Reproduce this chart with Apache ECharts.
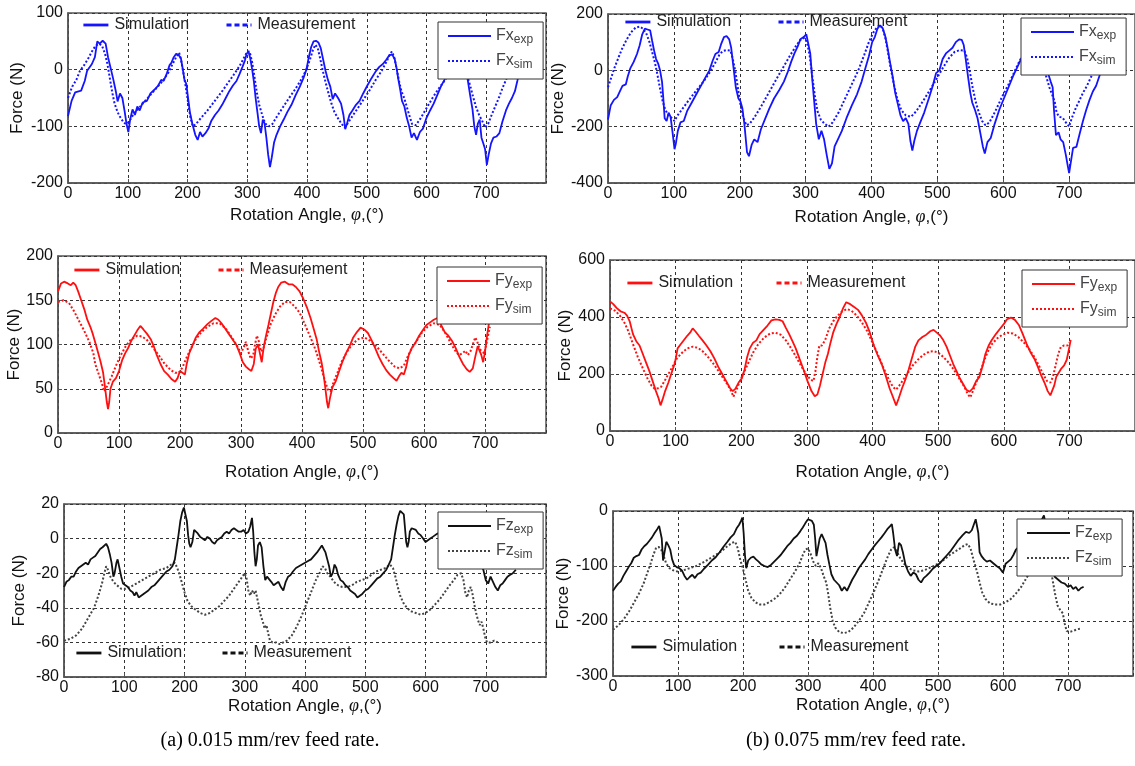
<!DOCTYPE html>
<html><head><meta charset="utf-8">
<script src="https://cdn.jsdelivr.net/npm/echarts@6/dist/echarts.min.js"></script>
<style>html,body{margin:0;padding:0;background:#fff}#c{width:1135px;height:766px}</style>
</head><body><div id="c"></div><script>
// ---------- DATA: [rotation angle (deg), force (N)] ----------
const xTicks = [0,100,200,300,400,500,600,700];
const captions = ['(a) 0.015 mm/rev feed rate.', '(b) 0.075 mm/rev feed rate.'];

const fxExpA = [[0,-82],[6,-55],[12,-40],[22,-37],[28,-20],[32,-2],[40,10],[45,22],[49,50],[53,46],[58,51],[63,46],[67,22],[72,0],[76,-18],[80,-38],[83,-56],[87,-42],[91,-50],[95,-75],[98,-96],[101,-110],[104,-88],[108,-70],[112,-80],[116,-65],[120,-72],[125,-58],[132,-55],[138,-42],[145,-35],[151,-28],[156,-18],[160,-20],[165,-8],[170,8],[173,12],[177,22],[181,28],[185,26],[189,20],[192,2],[195,-18],[198,-25],[201,-50],[204,-75],[208,-95],[213,-115],[217,-124],[221,-110],[225,-118],[230,-112],[235,-104],[240,-90],[246,-80],[252,-72],[258,-62],[264,-50],[270,-38],[276,-28],[282,-20],[287,-8],[292,5],[296,16],[299,28],[302,32],[305,20],[308,2],[311,-20],[314,-50],[317,-75],[320,-100],[323,-112],[326,-88],[329,-95],[332,-120],[335,-150],[338,-172],[341,-155],[345,-128],[349,-115],[355,-100],[361,-88],[367,-75],[374,-62],[381,-45],[388,-30],[394,-15],[399,0],[403,22],[407,40],[411,50],[415,51],[419,48],[423,38],[427,18],[431,-2],[435,-18],[439,-30],[443,-52],[447,-42],[452,-50],[457,-60],[461,-80],[464,-105],[467,-95],[471,-80],[476,-72],[482,-62],[488,-55],[494,-42],[501,-28],[508,-15],[515,-3],[521,5],[527,10],[533,18],[538,26],[543,26],[547,18],[550,2],[553,-18],[556,-35],[559,-55],[563,-65],[567,-85],[571,-100],[575,-120],[579,-112],[584,-124],[589,-110],[594,-104],[600,-85],[606,-72],[612,-60],[618,-45],[624,-30],[630,-18],[636,-5],[642,5],[648,15],[654,25],[660,20],[665,5],[669,-18],[673,-45],[677,-70],[680,-100],[683,-115],[686,-95],[689,-88],[692,-120],[695,-130],[698,-140],[701,-168],[704,-150],[708,-130],[712,-120],[717,-118],[722,-112],[727,-92],[733,-72],[738,-60],[743,-50],[748,-38],[752,-20],[756,0]];
const fxSimA = [[0,-50],[7,-30],[14,-18],[20,-2],[27,8],[34,20],[40,32],[46,42],[52,46],[57,42],[62,28],[66,10],[70,-15],[74,-40],[78,-60],[83,-75],[88,-85],[93,-93],[97,-96],[102,-92],[110,-78],[120,-66],[130,-54],[140,-42],[150,-30],[160,-18],[168,-5],[175,10],[181,22],[186,30],[189,18],[193,-5],[197,-30],[201,-58],[205,-85],[209,-100],[214,-96],[222,-86],[232,-74],[245,-56],[258,-38],[270,-20],[280,-5],[288,8],[295,22],[300,32],[304,32],[308,14],[312,-12],[316,-40],[320,-62],[325,-80],[330,-95],[336,-100],[342,-96],[350,-82],[360,-66],[370,-50],[380,-35],[390,-18],[398,-2],[405,18],[410,35],[414,44],[418,38],[422,20],[426,0],[431,-22],[436,-42],[441,-60],[446,-75],[452,-86],[458,-96],[463,-102],[468,-95],[476,-82],[485,-68],[495,-52],[505,-36],[515,-18],[525,-2],[533,14],[538,25],[542,32],[546,22],[550,2],[554,-20],[558,-38],[562,-48],[566,-62],[571,-80],[576,-96],[582,-98],[590,-86],[600,-68],[610,-50],[620,-34],[630,-20],[640,-5],[650,8],[658,20],[663,10],[668,-10],[673,-28],[678,-48],[683,-66],[688,-80],[693,-90],[698,-102],[703,-96],[709,-80],[715,-65],[721,-50],[727,-33],[733,-18],[740,0]];

const fxExpB = [[0,-175],[4,-125],[9,-105],[14,-95],[18,-75],[22,-55],[27,-50],[30,-22],[34,8],[39,30],[44,58],[48,88],[52,128],[56,148],[60,145],[64,142],[67,105],[70,70],[73,40],[76,25],[79,0],[82,-40],[84,-100],[86,-170],[89,-180],[92,-150],[95,-165],[98,-220],[101,-280],[103,-260],[106,-215],[110,-185],[115,-180],[120,-145],[127,-115],[134,-85],[141,-55],[148,-25],[154,0],[159,35],[163,58],[168,65],[172,95],[176,118],[180,122],[184,110],[187,80],[190,20],[194,-60],[198,-100],[201,-110],[204,-135],[207,-190],[211,-290],[214,-305],[218,-265],[222,-245],[227,-255],[232,-210],[238,-175],[245,-135],[252,-100],[260,-70],[267,-40],[273,-5],[278,30],[283,60],[288,85],[292,110],[297,118],[301,128],[304,95],[307,60],[310,-30],[313,-110],[316,-190],[320,-245],[324,-215],[328,-245],[332,-300],[336,-350],[340,-330],[344,-270],[349,-245],[355,-215],[362,-170],[370,-125],[378,-85],[385,-40],[391,10],[396,50],[401,100],[405,118],[409,148],[413,160],[417,150],[421,120],[424,85],[428,30],[432,-20],[436,-80],[440,-120],[444,-160],[448,-180],[452,-170],[456,-190],[459,-250],[462,-285],[465,-250],[469,-215],[474,-185],[480,-150],[487,-100],[493,-55],[498,-10],[503,0],[508,40],[513,60],[518,70],[523,80],[528,100],[533,110],[537,108],[540,90],[543,40],[547,-30],[550,-80],[553,-115],[557,-140],[561,-170],[565,-220],[569,-270],[572,-295],[576,-255],[581,-240],[587,-190],[594,-140],[601,-100],[608,-60],[615,-20],[621,10],[627,40],[633,70],[640,90],[647,110],[653,100],[658,70],[663,30],[668,-10],[672,-40],[675,-60],[677,-140],[680,-230],[684,-220],[687,-245],[691,-255],[695,-300],[698,-340],[700,-365],[703,-320],[706,-275],[711,-272],[716,-225],[721,-180],[726,-140],[731,-105],[736,-75],[741,-55],[746,-20],[752,20]];
const fxSimB = [[0,-60],[5,-25],[10,10],[15,40],[21,75],[28,108],[35,135],[42,152],[48,155],[53,148],[58,132],[63,100],[67,65],[71,30],[75,-15],[79,-65],[83,-110],[87,-140],[92,-160],[97,-170],[101,-180],[105,-162],[112,-140],[122,-108],[133,-75],[145,-40],[155,-5],[163,28],[169,55],[174,68],[180,72],[186,70],[189,45],[193,0],[197,-60],[201,-120],[205,-165],[210,-195],[215,-190],[222,-168],[232,-130],[244,-80],[256,-30],[267,15],[277,55],[285,85],[292,108],[298,115],[302,100],[306,55],[310,-20],[314,-90],[318,-145],[323,-175],[329,-190],[335,-200],[341,-185],[350,-150],[360,-100],[370,-50],[380,0],[389,55],[396,100],[403,135],[409,155],[413,160],[417,148],[421,115],[425,65],[429,10],[434,-50],[439,-100],[445,-140],[452,-160],[460,-165],[468,-145],[478,-110],[490,-65],[500,-25],[510,15],[518,45],[526,65],[534,72],[541,70],[545,45],[549,0],[553,-55],[558,-110],[563,-150],[568,-180],[573,-195],[579,-185],[588,-145],[598,-95],[608,-50],[617,-5],[625,35],[633,65],[641,85],[649,92],[655,70],[660,30],[665,-20],[670,-60],[674,-85],[678,-110],[681,-150],[685,-165],[690,-168],[695,-185],[700,-200],[704,-170],[709,-140],[715,-110],[721,-80],[727,-55],[734,-20],[742,20]];

const fyExpA = [[0,160],[5,169],[10,171],[16,169],[21,167],[25,170],[29,167],[33,160],[38,150],[43,140],[48,128],[53,120],[57,112],[62,100],[66,90],[70,80],[74,68],[77,52],[80,35],[82,27],[84,35],[86,50],[90,58],[95,62],[100,70],[105,82],[110,90],[115,96],[120,104],[125,110],[130,116],[135,121],[140,117],[146,112],[152,106],[157,98],[162,88],[168,78],[174,70],[180,66],[186,61],[192,58],[196,62],[200,70],[204,68],[208,66],[211,78],[215,90],[220,98],[226,108],[232,114],[238,118],[245,123],[252,127],[258,130],[263,128],[268,124],[274,118],[280,112],[286,106],[292,100],[298,90],[303,80],[308,75],[313,72],[317,70],[321,78],[324,95],[328,100],[331,90],[334,80],[337,96],[341,110],[345,122],[349,135],[353,148],[357,158],[361,165],[366,170],[372,171],[378,168],[384,168],[390,165],[396,160],[402,152],[408,142],[414,130],[419,118],[424,106],[428,92],[432,80],[435,68],[438,52],[441,35],[443,28],[446,40],[450,52],[455,58],[460,68],[466,80],[472,90],[478,98],[484,108],[490,114],[496,119],[502,117],[508,113],[514,105],[520,96],[526,86],[532,78],[538,71],[544,66],[550,62],[555,59],[559,64],[563,68],[567,66],[571,75],[575,88],[580,96],[586,102],[592,110],[598,116],[604,122],[610,125],[616,128],[622,130],[628,122],[634,114],[640,110],[646,104],[652,96],[658,86],[664,78],[670,72],[675,69],[680,73],[684,86],[688,98],[691,100],[694,88],[697,80],[700,92],[703,108],[706,122],[710,135]];
const fySimA = [[0,148],[9,150],[18,147],[26,138],[35,126],[44,114],[52,102],[58,90],[61,78],[64,72],[67,74],[71,58],[76,47],[82,55],[88,64],[95,76],[103,88],[111,98],[120,106],[130,110],[138,109],[146,105],[155,97],[165,88],[175,78],[185,71],[192,68],[198,68],[204,74],[210,84],[218,96],[226,106],[235,114],[245,120],[255,124],[265,124],[275,118],[285,108],[294,98],[300,90],[305,98],[308,103],[312,92],[316,84],[320,88],[323,100],[326,110],[329,104],[333,92],[337,96],[341,106],[348,122],[356,134],[364,143],[372,148],[380,148],[388,143],[396,136],[404,124],[412,111],[420,98],[427,84],[433,70],[438,58],[443,48],[447,47],[452,58],[458,68],[466,82],[474,92],[482,100],[492,106],[502,108],[512,104],[522,98],[532,90],[542,82],[552,75],[560,73],[567,76],[573,86],[580,96],[588,104],[597,114],[606,120],[616,124],[626,122],[634,114],[642,104],[650,94],[657,88],[663,90],[668,93],[672,88],[676,92],[680,100],[684,108],[687,104],[691,95],[695,92],[699,90],[702,100],[705,110],[708,120]];

const fyExpB = [[0,455],[5,445],[10,432],[16,420],[22,415],[26,405],[30,385],[35,340],[40,315],[45,300],[50,270],[55,240],[60,210],[65,175],[70,140],[74,115],[77,90],[80,110],[84,140],[89,170],[94,205],[99,240],[103,290],[108,305],[113,320],[118,335],[122,345],[126,360],[130,350],[135,335],[141,318],[147,300],[153,280],[159,255],[165,225],[171,200],[177,175],[183,150],[187,140],[191,148],[196,170],[201,185],[205,215],[209,260],[213,290],[218,310],[223,318],[228,340],[234,355],[240,370],[246,388],[252,392],[258,390],[263,385],[268,362],[273,340],[278,315],[283,290],[289,252],[295,215],[301,175],[307,140],[312,122],[316,128],[320,160],[324,200],[328,240],[332,270],[336,310],[340,345],[345,375],[350,400],[355,430],[360,452],[366,445],[372,435],[378,425],[384,405],[390,380],[396,345],[402,300],[408,265],[414,235],[420,195],[426,150],[431,120],[436,90],[440,115],[445,150],[450,180],[455,215],[460,255],[465,295],[470,318],[476,330],[482,338],[488,350],[493,355],[498,345],[503,335],[508,318],[513,295],[518,265],[523,235],[528,210],[533,185],[538,165],[543,145],[548,138],[553,150],[558,175],[563,190],[568,230],[572,270],[577,300],[582,320],[588,340],[594,358],[600,375],[605,392],[611,398],[617,390],[623,372],[629,340],[635,305],[641,275],[647,252],[652,225],[657,195],[662,170],[667,140],[671,125],[674,120],[677,160],[680,190],[684,205],[688,220],[692,230],[696,250],[700,295],[702,320]];
const fySimB = [[0,430],[8,422],[15,405],[22,380],[28,350],[35,305],[42,262],[50,220],[57,185],[63,160],[68,148],[73,150],[78,155],[83,175],[89,200],[95,225],[102,255],[110,275],[118,290],[126,296],[134,292],[142,278],[150,258],[158,235],[166,208],[174,180],[180,160],[185,138],[188,120],[192,140],[197,170],[203,200],[210,235],[218,275],[226,305],[235,328],[244,342],[252,345],[260,338],[268,318],[276,290],[284,258],[292,225],[300,195],[306,180],[310,175],[313,210],[316,260],[319,300],[323,300],[328,320],[334,360],[340,385],[347,405],[354,420],[361,428],[368,422],[376,405],[384,380],[392,350],[400,310],[408,270],[416,225],[424,185],[431,155],[436,145],[441,160],[447,180],[454,205],[462,232],[470,252],[478,268],[486,278],[493,280],[500,275],[508,260],[516,240],[524,215],[532,185],[540,155],[545,130],[549,118],[553,140],[558,170],[563,200],[569,240],[575,275],[582,305],[590,325],[598,338],[606,345],[614,342],[622,330],[630,312],[638,290],[646,262],[653,232],[660,200],[666,175],[671,170],[675,190],[679,230],[683,270],[687,295],[692,300],[697,300],[700,310]];

const fzExpA = [[0,-28],[4,-25],[8,-24],[12,-22],[16,-22],[20,-19],[24,-17],[28,-16],[32,-15],[36,-14],[40,-15],[44,-12],[48,-11],[52,-10],[56,-8],[60,-6],[64,-5],[67,-4],[70,-3],[73,-5],[76,-9],[79,-14],[82,-22],[84,-20],[87,-14],[89,-12],[92,-17],[95,-22],[98,-26],[102,-27],[106,-28],[110,-30],[114,-31],[117,-33],[120,-31],[124,-34],[128,-33],[132,-32],[136,-31],[140,-30],[145,-28],[150,-27],[155,-25],[160,-23],[165,-21],[170,-19],[175,-18],[180,-16],[184,-12],[187,-5],[190,2],[193,10],[196,15],[199,18],[202,17],[204,10],[206,2],[208,-3],[210,-5],[213,-2],[216,5],[219,4],[222,3],[226,1],[230,0],[234,-1],[238,1],[242,0],[246,-2],[250,-3],[254,-1],[258,0],[262,1],[266,3],[270,4],[274,3],[278,5],[282,6],[286,5],[290,4],[294,4],[298,5],[302,3],[306,4],[309,7],[312,12],[314,4],[316,-8],[318,-16],[320,-12],[322,-4],[325,-2],[328,-5],[331,-16],[334,-24],[337,-22],[340,-21],[344,-25],[348,-27],[352,-26],[356,-25],[360,-28],[364,-30],[368,-25],[372,-22],[376,-21],[380,-19],[385,-17],[390,-16],[395,-15],[400,-14],[405,-13],[410,-12],[415,-10],[420,-8],[424,-6],[428,-4],[431,-5],[434,-8],[437,-12],[440,-16],[443,-22],[446,-20],[449,-15],[452,-17],[455,-21],[459,-24],[463,-25],[467,-27],[471,-28],[475,-30],[479,-31],[483,-32],[487,-34],[491,-33],[495,-32],[500,-30],[505,-29],[510,-27],[515,-25],[520,-23],[525,-22],[530,-20],[535,-18],[539,-15],[543,-12],[546,-5],[549,2],[552,8],[555,13],[558,16],[561,17],[564,14],[566,6],[568,-2],[570,-5],[572,-2],[574,4],[577,6],[580,5],[584,5],[588,3],[592,2],[596,0],[600,-2],[604,-1],[608,0],[612,1],[616,2],[620,3],[630,2],[640,4],[650,6],[660,3],[670,-2],[680,-8],[690,-14],[696,-18],[700,-24],[704,-26],[708,-22],[712,-25],[716,-28],[720,-30],[724,-27],[728,-26],[732,-24],[736,-22],[740,-21],[745,-20],[750,-18]];
const fzSimA = [[0,-59],[10,-58],[20,-56],[30,-52],[40,-46],[50,-40],[57,-33],[63,-26],[67,-20],[70,-16],[73,-18],[77,-22],[82,-25],[88,-27],[95,-29],[102,-29],[110,-28],[120,-26],[130,-24],[140,-22],[150,-20],[160,-18],[170,-17],[178,-15],[184,-14],[188,-17],[192,-21],[196,-26],[200,-31],[205,-36],[211,-39],[218,-41],[226,-43],[234,-44],[242,-43],[250,-41],[258,-39],[266,-36],[274,-33],[282,-29],[290,-25],[296,-22],[300,-20],[303,-23],[306,-30],[309,-33],[312,-30],[315,-32],[318,-30],[321,-35],[324,-40],[327,-45],[330,-48],[333,-52],[336,-50],[339,-55],[342,-59],[346,-60],[352,-60],[358,-61],[364,-60],[370,-59],[378,-56],[386,-51],[394,-45],[402,-38],[410,-31],[418,-24],[424,-20],[429,-16],[433,-17],[437,-20],[442,-22],[448,-25],[455,-27],[462,-28],[470,-28],[478,-27],[486,-25],[494,-24],[502,-23],[510,-21],[518,-19],[526,-18],[534,-17],[541,-15],[546,-17],[550,-22],[554,-28],[558,-33],[563,-37],[569,-40],[576,-42],[584,-43],[592,-44],[600,-43],[608,-41],[616,-38],[624,-35],[632,-31],[640,-27],[647,-24],[653,-21],[659,-20],[663,-24],[666,-31],[669,-34],[672,-30],[675,-28],[678,-32],[681,-38],[684,-43],[687,-47],[690,-50],[693,-48],[696,-52],[699,-57],[702,-60],[708,-60],[714,-59],[720,-60]];

const fzExpB = [[0,-145],[4,-138],[8,-132],[12,-128],[16,-118],[20,-110],[24,-102],[28,-95],[32,-85],[36,-82],[40,-80],[44,-70],[48,-64],[52,-60],[56,-54],[60,-48],[64,-40],[68,-33],[71,-27],[73,-24],[75,-50],[77,-90],[80,-70],[82,-56],[85,-62],[88,-70],[91,-88],[94,-98],[98,-102],[102,-104],[106,-108],[110,-118],[114,-125],[118,-120],[122,-116],[126,-122],[130,-115],[135,-112],[140,-105],[146,-98],[152,-90],[158,-84],[164,-75],[170,-65],[176,-56],[181,-48],[186,-42],[190,-32],[194,-25],[197,-18],[199,-12],[201,-40],[203,-80],[205,-104],[208,-90],[212,-85],[216,-83],[220,-88],[224,-92],[228,-97],[233,-100],[238,-102],[243,-98],[248,-92],[253,-86],[258,-80],[263,-72],[268,-64],[273,-58],[278,-50],[283,-45],[288,-37],[292,-30],[296,-22],[300,-15],[303,-12],[306,-18],[309,-25],[311,-50],[313,-82],[316,-84],[318,-50],[321,-42],[324,-40],[327,-58],[330,-80],[333,-98],[336,-115],[340,-125],[344,-130],[348,-135],[352,-145],[356,-138],[360,-145],[364,-135],[368,-125],[373,-115],[378,-104],[383,-96],[388,-88],[393,-78],[398,-70],[403,-62],[408,-55],[413,-48],[418,-40],[422,-33],[426,-28],[429,-24],[431,-40],[434,-70],[437,-82],[440,-58],[443,-62],[446,-75],[450,-98],[454,-110],[458,-118],[462,-112],[466,-115],[470,-125],[474,-130],[478,-122],[482,-118],[487,-112],[492,-105],[497,-100],[502,-96],[508,-88],[514,-80],[520,-72],[526,-62],[532,-52],[538,-44],[543,-38],[548,-40],[552,-35],[555,-25],[558,-15],[560,-12],[562,-40],[564,-75],[567,-82],[571,-88],[575,-92],[580,-90],[585,-95],[590,-100],[595,-104],[600,-112],[604,-96],[608,-92],[612,-88],[616,-80],[620,-70],[628,-60],[636,-50],[645,-40],[652,-30],[658,-20],[663,-8],[666,-5],[668,-40],[672,-90],[676,-110],[680,-120],[685,-125],[690,-130],[695,-132],[700,-138],[704,-135],[708,-142],[712,-138],[716,-145],[720,-140],[724,-138]];
const fzSimB = [[0,-216],[9,-207],[17,-196],[25,-182],[33,-165],[40,-150],[47,-132],[53,-112],[58,-95],[62,-80],[66,-68],[70,-65],[74,-70],[78,-82],[82,-96],[87,-104],[93,-108],[99,-110],[108,-108],[118,-104],[128,-100],[138,-94],[148,-87],[158,-80],[168,-72],[176,-64],[183,-58],[188,-56],[192,-68],[196,-90],[200,-105],[204,-125],[208,-145],[213,-158],[219,-166],[226,-170],[233,-170],[240,-166],[248,-160],[256,-152],[264,-140],[272,-125],[280,-110],[287,-95],[292,-80],[296,-70],[300,-68],[304,-78],[308,-92],[312,-100],[316,-95],[320,-104],[324,-118],[328,-130],[331,-150],[334,-175],[338,-200],[342,-212],[348,-220],[355,-222],[362,-220],[370,-212],[378,-200],[386,-186],[394,-166],[402,-145],[410,-122],[417,-100],[423,-82],[428,-70],[432,-66],[436,-72],[442,-86],[448,-96],[455,-104],[462,-108],[470,-110],[478,-108],[486,-104],[494,-100],[502,-94],[510,-88],[518,-80],[526,-74],[534,-68],[541,-62],[546,-60],[550,-68],[555,-90],[560,-110],[564,-130],[568,-148],[573,-160],[580,-168],[588,-170],[596,-170],[604,-166],[612,-160],[620,-150],[628,-138],[636,-122],[644,-106],[652,-90],[658,-76],[662,-68],[666,-75],[670,-90],[674,-110],[677,-130],[680,-150],[684,-172],[688,-180],[692,-186],[695,-205],[698,-218],[702,-220],[708,-218],[714,-215],[720,-214]];

// ---------- LAYOUT / STYLE ----------
const SANS = '"Liberation Sans", Arial, Helvetica, sans-serif';
const panels = [
  {grid:{left:68,top:13,width:478,height:170}, y:{min:-200,max:100,interval:100}, color:'#1414ff', simColor:'#1414ff', sym:'Fx', exp:fxExpA, sim:fxSimA, yGap:42, xGap:23, leg:{left:82,top:17,gap:36}, box:{left:438,top:22}},
  {grid:{left:608,top:14,width:530,height:169}, y:{min:-400,max:200,interval:200}, color:'#1414ff', simColor:'#1414ff', sym:'Fx', exp:fxExpB, sim:fxSimB, yGap:34, xGap:25, leg:{left:624,top:14,gap:46}, box:{left:1021,top:18}},
  {grid:{left:58,top:256,width:488,height:177}, y:{min:0,max:200,interval:50}, color:'#ff1010', simColor:'#ff1010', sym:'Fy', exp:fyExpA, sim:fySimA, yGap:32, xGap:30, leg:{left:73,top:262,gap:37}, box:{left:437,top:267}},
  {grid:{left:610,top:260,width:530,height:171}, y:{min:0,max:600,interval:200}, color:'#ff1010', simColor:'#ff1010', sym:'Fy', exp:fyExpB, sim:fySimB, yGap:36, xGap:32, leg:{left:626,top:275,gap:42}, box:{left:1022,top:270}},
  {grid:{left:64,top:504,width:482,height:173}, y:{min:-80,max:20,interval:20}, color:'#111111', simColor:'#444444', sym:'Fz', exp:fzExpA, sim:fzSimA, yGap:36, xGap:14, leg:{left:75,top:645,gap:39}, box:{left:438,top:512}},
  {grid:{left:613,top:511,width:520,height:165}, y:{min:-300,max:0,interval:100}, color:'#111111', simColor:'#444444', sym:'Fz', exp:fzExpB, sim:fzSimB, yGap:38, xGap:16, leg:{left:630,top:639,gap:41}, box:{left:1017,top:519}}
];

const gridLine = {show:true, lineStyle:{color:'#333', type:[3,3], width:1}};
const grids = [], xAxes = [], yAxes = [], series = [], legends = [];
panels.forEach((p, i) => {
  const k = '#' + (i + 1);
  grids.push(Object.assign({show:true, borderColor:'#555', borderWidth:1.5, backgroundColor:'#fff'}, p.grid));
  xAxes.push({type:'value', gridIndex:i, min:0, max:800, interval:100,
    name:'Rotation Angle, {i|φ},(°)', nameLocation:'middle', nameGap:p.xGap,
    nameTextStyle:{fontFamily:SANS, fontSize:17, color:'#111', verticalAlign:'top',
      rich:{i:{fontFamily:'"Liberation Serif", serif', fontStyle:'italic', fontSize:18, color:'#111'}}},
    axisLine:{show:true, onZero:false, lineStyle:{color:'#555', width:1.5}},
    axisTick:{show:true, inside:true, length:4, lineStyle:{color:'#555'}},
    axisLabel:{fontFamily:SANS, fontSize:16, color:'#111', margin:3, showMaxLabel:false,
      formatter: v => xTicks.includes(v) ? String(v) : ''},
    splitLine:gridLine});
  yAxes.push({type:'value', gridIndex:i, min:p.y.min, max:p.y.max, interval:p.y.interval,
    name:'Force (N)', nameLocation:'middle', nameGap:p.yGap, nameRotate:90,
    nameTextStyle:{fontFamily:SANS, fontSize:17, color:'#111'},
    axisLine:{show:true, onZero:false, lineStyle:{color:'#555', width:1.5}},
    axisTick:{show:true, inside:true, length:4, lineStyle:{color:'#555'}},
    axisLabel:{fontFamily:SANS, fontSize:16, color:'#111', margin:5},
    splitLine:gridLine});
  const expName = p.sym + '_exp' + k, simName = p.sym + '_sim' + k;
  series.push({type:'line', name:expName, xAxisIndex:i, yAxisIndex:i, data:p.exp, symbol:'none',
    color:p.color, lineStyle:{color:p.color, width:1.8, type:'solid'}, z:3});
  series.push({type:'line', name:simName, xAxisIndex:i, yAxisIndex:i, data:p.sim, symbol:'none',
    color:p.simColor, lineStyle:{color:p.simColor, width:2, type:[2,2]}, z:2});
  // legend-only series (no data) for "Simulation" / "Measurement" keys
  series.push({type:'line', name:'Simulation' + k, xAxisIndex:i, yAxisIndex:i, data:[], symbol:'none',
    color:p.color, lineStyle:{color:p.color, width:2.6, type:'solid'}});
  series.push({type:'line', name:'Measurement' + k, xAxisIndex:i, yAxisIndex:i, data:[], symbol:'none',
    color:p.color, lineStyle:{color:p.color, width:2.8, type:[5,3]}});
  legends.push({left:p.leg.left, top:p.leg.top, orient:'horizontal', padding:0, itemGap:p.leg.gap,
    itemWidth:25, itemHeight:14, selectedMode:false, data:['Simulation' + k, 'Measurement' + k],
    itemStyle:{opacity:0}, lineStyle:{opacity:1, width:2.8},
    formatter: n => n.split('#')[0],
    textStyle:{fontFamily:SANS, fontSize:16, color:'#222', padding:[0,0,0,1]}});
  legends.push({left:p.box.left, top:p.box.top, orient:'vertical', padding:[6,10,8,9], itemGap:7,
    itemWidth:43, itemHeight:14, selectedMode:false, backgroundColor:'#fff', borderColor:'#333', borderWidth:1,
    itemStyle:{opacity:0}, lineStyle:{opacity:1, width:2},
    data:[expName, simName], z:10,
    formatter: n => { const b = n.split('#')[0].split('_'); return b[0] + '{s|' + b[1] + '}'; },
    textStyle:{fontFamily:SANS, fontSize:16, color:'#444',
      rich:{s:{fontFamily:SANS, fontSize:12, color:'#444', padding:[8,0,0,0]}}}});
});

const chart = echarts.init(document.getElementById('c'), null, {renderer:'canvas'});
chart.setOption({
  animation:false,
  backgroundColor:'#fff',
  grid:grids, xAxis:xAxes, yAxis:yAxes, series:series, legend:legends,
  graphic:[
    {type:'text', x:270, y:741, style:{text:captions[0], textAlign:'center', textVerticalAlign:'middle', font:'20px "Liberation Serif", "Times New Roman", serif', fill:'#000'}},
    {type:'text', x:856, y:741, style:{text:captions[1], textAlign:'center', textVerticalAlign:'middle', font:'20px "Liberation Serif", "Times New Roman", serif', fill:'#000'}}
  ]
});
</script></body></html>
